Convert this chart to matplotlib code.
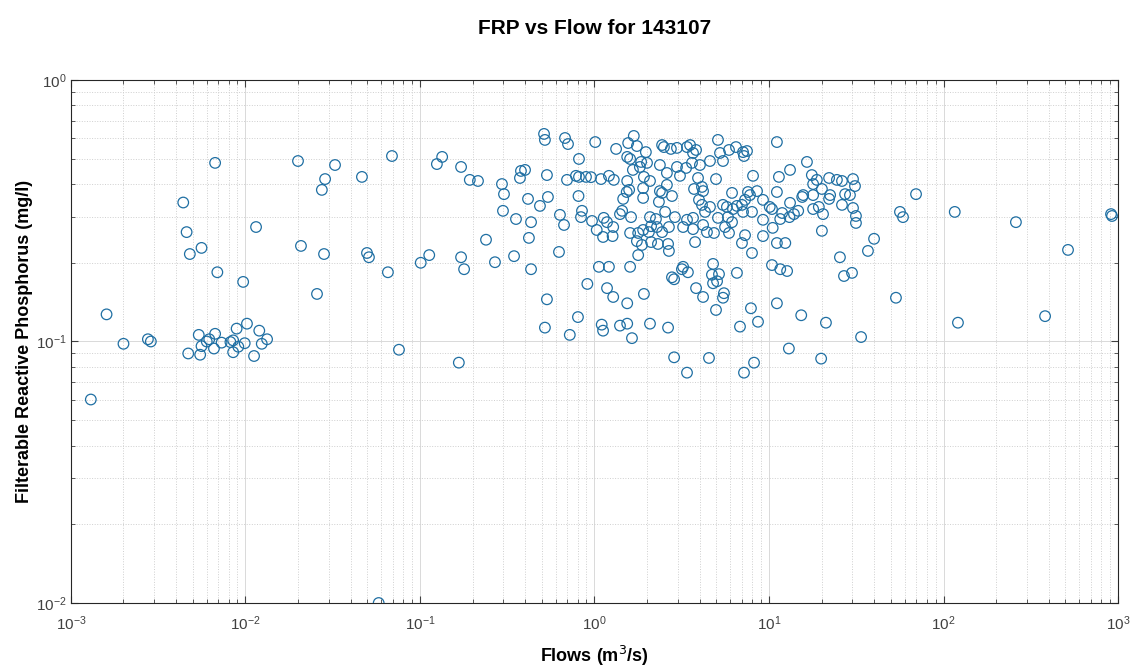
#program to plot FRP against flow on log axes

import matplotlib
matplotlib.use('Agg')
import matplotlib.pyplot as plt
import numpy as np
from matplotlib.ticker import LogLocator, NullFormatter

########################################################################
### data ###
########################################################################

site = '143107'

#flows in m3/s
flow = [
    0.0013, 0.0016, 0.0020, 0.00276, 0.00287, 0.0044, 0.0046, 0.0048, 0.0056, 0.0069,
    0.0067, 0.0097, 0.0115, 0.0054, 0.0047, 0.0055, 0.0056, 0.0060, 0.0062, 0.0067,
    0.0066, 0.0073, 0.0082, 0.0085, 0.0089, 0.0085, 0.0091, 0.0099, 0.0102, 0.0120,
    0.0124, 0.0133, 0.0112,
    0.020, 0.0326, 0.0286, 0.0274, 0.0465, 0.0691, 0.125, 0.134, 0.172, 0.193,
    0.0208, 0.0282, 0.0497, 0.051, 0.0655, 0.101, 0.113, 0.172, 0.179, 0.0257,
    0.0758, 0.167, 0.058,
    0.215, 0.239, 0.269,
    0.514, 0.520, 0.678, 0.705, 0.374, 0.379, 0.400, 0.534, 0.696, 0.295,
    0.303, 0.299, 0.416, 0.487, 0.541, 0.355, 0.433, 0.634, 0.669, 0.421,
    0.346, 0.626, 0.433, 0.534, 0.520, 0.722, 0.804,
    0.815, 1.01, 1.33, 1.68, 1.56, 1.75, 1.97, 1.54, 1.60, 1.85,
    2.00, 1.66, 1.82, 2.44, 2.50, 2.74, 2.97, 3.39, 2.37, 2.97,
    3.35, 2.60, 3.09, 1.92, 2.08, 0.783, 0.815, 0.894, 0.955, 1.09,
    1.21, 1.29, 1.54, 1.58, 1.53, 1.90, 1.90, 1.46, 2.60, 2.37,
    2.44, 2.78, 2.34, 0.81, 2.54, 2.89, 1.44, 1.62, 1.40, 0.848,
    0.837, 0.968, 1.13, 1.18, 1.28, 1.03, 1.12, 1.27, 2.08, 2.25,
    2.11, 2.28, 2.67, 3.22, 3.39, 1.60, 1.78, 1.90, 2.05, 2.44,
    1.75, 1.87, 2.11, 2.31, 2.64, 2.67, 1.78, 1.06, 1.21, 1.60,
    3.22, 0.91, 1.18, 1.28, 1.92, 1.54, 2.78, 2.86, 3.17, 3.43,
    1.10, 1.12, 1.40, 1.54, 1.64, 2.08, 2.64, 2.86, 3.39,
    5.10, 6.47, 5.90, 5.24, 7.10, 7.48, 7.19, 11.1, 3.53, 3.82,
    3.67, 4.59, 5.45, 3.62, 4.02, 16.5, 4.97, 8.10, 11.4, 13.2,
    3.92, 4.13, 4.19, 3.72, 6.14, 7.58, 7.78, 8.54, 11.1, 15.7,
    3.97, 4.13, 4.59, 4.30, 5.45, 5.74, 6.55, 7.00, 7.29, 6.22,
    7.10, 7.99, 9.24, 10.1, 10.4, 11.9, 13.2, 14.7, 13.1, 11.6,
    3.67, 5.10, 5.82, 6.14, 9.24, 4.19, 5.60, 3.67, 4.41, 4.84,
    5.90, 7.29, 9.24, 10.5, 3.77, 7.00, 11.1, 12.4, 7.99, 4.78,
    10.4, 12.7, 4.71, 5.17, 4.78, 5.04, 6.55, 3.82, 4.19, 5.52,
    5.45, 4.97, 7.88, 6.82, 8.65, 11.6, 11.1, 15.3, 13.0, 4.53,
    8.21, 7.19,
    17.6, 18.8, 17.9, 22.1, 24.5, 26.2, 30.3, 31.1, 20.1, 15.5,
    17.9, 22.4, 22.1, 27.3, 29.1, 26.2, 30.3, 31.5, 31.5, 13.9,
    17.9, 19.3, 20.4, 20.1, 69.6, 56.3, 58.6, 40.0, 36.9, 25.5,
    26.9, 29.9, 53.4, 21.2, 33.7, 19.9,
    116, 260, 517, 924, 912, 121, 382,
]

#filterable reactive phosphorus in mg/l
frp = [
    0.060, 0.127, 0.098, 0.102, 0.100, 0.34, 0.262, 0.216, 0.228, 0.184,
    0.482, 0.169, 0.274, 0.106, 0.090, 0.089, 0.096, 0.100, 0.102, 0.107,
    0.094, 0.099, 0.0995, 0.101, 0.112, 0.091, 0.0955, 0.0985, 0.117, 0.110,
    0.098, 0.102, 0.088,
    0.490, 0.473, 0.418, 0.380, 0.426, 0.512, 0.477, 0.508, 0.465, 0.415,
    0.232, 0.216, 0.218, 0.210, 0.184, 0.200, 0.214, 0.210, 0.189, 0.152,
    0.093, 0.083, 0.010,
    0.411, 0.245, 0.201,
    0.622, 0.590, 0.600, 0.569, 0.422, 0.449, 0.453, 0.433, 0.415, 0.400,
    0.366, 0.316, 0.351, 0.330, 0.357, 0.294, 0.286, 0.305, 0.279, 0.249,
    0.212, 0.220, 0.189, 0.145, 0.113, 0.106, 0.124,
    0.499, 0.579, 0.545, 0.611, 0.574, 0.559, 0.530, 0.508, 0.499, 0.486,
    0.482, 0.453, 0.465, 0.564, 0.554, 0.545, 0.550, 0.554, 0.473, 0.465,
    0.461, 0.441, 0.430, 0.426, 0.411, 0.430, 0.426, 0.426, 0.425, 0.418,
    0.430, 0.415, 0.411, 0.380, 0.373, 0.386, 0.354, 0.351, 0.397, 0.376,
    0.370, 0.360, 0.342, 0.360, 0.313, 0.299, 0.316, 0.299, 0.307, 0.316,
    0.299, 0.289, 0.297, 0.286, 0.274, 0.267, 0.251, 0.253, 0.299, 0.294,
    0.276, 0.274, 0.274, 0.274, 0.292, 0.260, 0.260, 0.267, 0.262, 0.262,
    0.242, 0.234, 0.240, 0.236, 0.236, 0.222, 0.214, 0.193, 0.193, 0.193,
    0.193, 0.166, 0.160, 0.148, 0.152, 0.140, 0.176, 0.173, 0.189, 0.184,
    0.116, 0.110, 0.115, 0.117, 0.103, 0.117, 0.113, 0.087, 0.076,
    0.590, 0.554, 0.540, 0.526, 0.530, 0.535, 0.512, 0.579, 0.564, 0.540,
    0.526, 0.490, 0.490, 0.482, 0.473, 0.486, 0.418, 0.430, 0.426, 0.453,
    0.422, 0.390, 0.376, 0.383, 0.370, 0.373, 0.363, 0.376, 0.373, 0.363,
    0.348, 0.333, 0.327, 0.313, 0.333, 0.327, 0.330, 0.333, 0.348, 0.321,
    0.313, 0.313, 0.348, 0.327, 0.321, 0.310, 0.339, 0.316, 0.299, 0.294,
    0.297, 0.297, 0.299, 0.286, 0.292, 0.279, 0.274, 0.269, 0.262, 0.260,
    0.260, 0.255, 0.253, 0.272, 0.240, 0.238, 0.238, 0.238, 0.218, 0.198,
    0.196, 0.186, 0.180, 0.181, 0.167, 0.170, 0.183, 0.160, 0.148, 0.153,
    0.147, 0.132, 0.134, 0.114, 0.119, 0.189, 0.140, 0.126, 0.094, 0.0865,
    0.083, 0.076,
    0.433, 0.415, 0.400, 0.422, 0.415, 0.411, 0.418, 0.393, 0.383, 0.357,
    0.363, 0.363, 0.351, 0.366, 0.363, 0.333, 0.324, 0.302, 0.284, 0.307,
    0.321, 0.327, 0.307, 0.265, 0.366, 0.313, 0.299, 0.247, 0.222, 0.210,
    0.178, 0.183, 0.147, 0.118, 0.104, 0.086,
    0.313, 0.286, 0.224, 0.302, 0.307, 0.118, 0.125,
]

#decade ticks shown on each axis
x_ticks = [1e-3, 1e-2, 1e-1, 1e0, 1e1, 1e2, 1e3]
x_tick_labels = ['$\\mathdefault{10^{-3}}$', '$\\mathdefault{10^{-2}}$',
                 '$\\mathdefault{10^{-1}}$', '$\\mathdefault{10^{0}}$',
                 '$\\mathdefault{10^{1}}$', '$\\mathdefault{10^{2}}$',
                 '$\\mathdefault{10^{3}}$']
y_ticks = [1e-2, 1e-1, 1e0]
y_tick_labels = ['$\\mathdefault{10^{-2}}$', '$\\mathdefault{10^{-1}}$',
                 '$\\mathdefault{10^{0}}$']

########################################################################
### plot ###
########################################################################

plt.rcParams['font.family'] = ['Liberation Sans', 'DejaVu Sans']

fig = plt.figure(figsize=(11.37, 6.70), dpi=100)
ax = fig.add_axes([0.0624, 0.1, 0.9209, 0.7806])

ax.scatter(flow, frp, s=58, facecolors='none', edgecolors='#1f6fa3',
           linewidths=0.9, zorder=3)

ax.set_xscale('log')
ax.set_yscale('log')
ax.set_xlim(1e-3, 1e3)
ax.set_ylim(1e-2, 1e0)

ax.set_xticks(x_ticks)
ax.set_xticklabels(x_tick_labels)
ax.set_yticks(y_ticks)
ax.set_yticklabels(y_tick_labels)
ax.xaxis.set_minor_locator(LogLocator(base=10, subs=np.arange(2, 10)))
ax.yaxis.set_minor_locator(LogLocator(base=10, subs=np.arange(2, 10)))
ax.xaxis.set_minor_formatter(NullFormatter())
ax.yaxis.set_minor_formatter(NullFormatter())

ax.grid(which='major', color='#d9d9d9', linestyle='-', linewidth=0.7)
ax.grid(which='minor', color='#cfcfcf', linestyle=':', linewidth=0.7)
ax.set_axisbelow(True)

ax.tick_params(which='both', direction='in', top=True, right=True,
               colors='#404040', labelsize=11)
ax.tick_params(which='major', length=5, width=0.8)
ax.tick_params(which='minor', length=3, width=0.6)
ax.tick_params(axis='x', pad=8)
ax.tick_params(axis='y', pad=3)
for sp in ax.spines.values():
    sp.set_color('#262626')
    sp.set_linewidth(0.8)

ax.set_xlabel('Flows (m$^3$/s)', fontsize=13, fontweight='bold', labelpad=8)
ax.set_ylabel('Filterable Reactive Phosphorus (mg/l)', fontsize=13,
              fontweight='bold')
ax.yaxis.set_label_coords(-0.036, 0.5)
ax.set_title('FRP vs Flow for ' + site, fontsize=15, fontweight='bold', pad=33)

fig.savefig('out.png', dpi=100)
